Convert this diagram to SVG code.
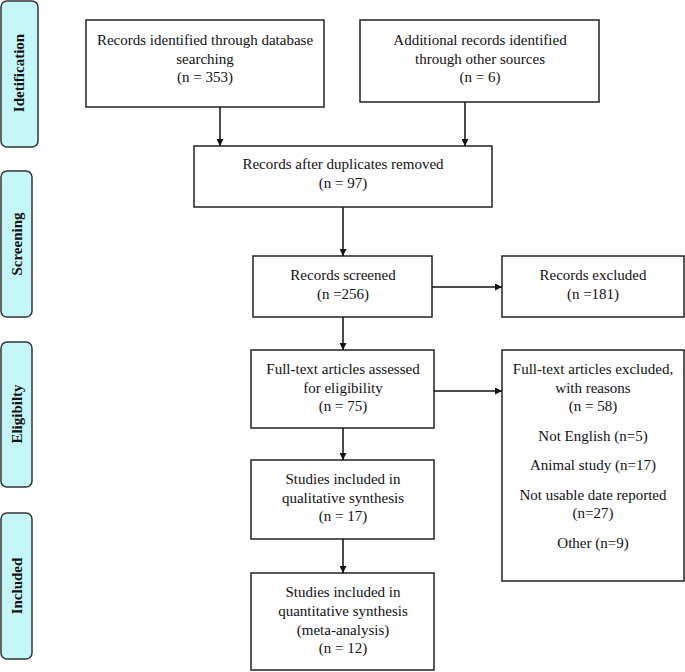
<svg xmlns="http://www.w3.org/2000/svg" width="685" height="672" viewBox="0 0 685 672">
<defs>
<style>
.tab{fill:#c5f7f9;stroke:#333;stroke-width:1.5}
.box{fill:#fff;stroke:#222;stroke-width:1.5}
text{font-family:"Liberation Serif","Times New Roman",serif;font-size:15px;fill:#111;text-anchor:middle}
.tt{font-weight:bold;font-size:15px}
.con{stroke:#111;stroke-width:1.5;fill:none;marker-end:url(#ah)}
</style>
<marker id="ah" viewBox="0 0 10 10" refX="10" refY="5" markerWidth="7" markerHeight="7" markerUnits="userSpaceOnUse" orient="auto">
<path d="M0,0 L10,5 L0,10 Z" fill="#111"/>
</marker>
</defs>
<rect width="685" height="672" fill="#fff"/>
<g id="tab-identification"><rect class="tab" x="1" y="1" width="37" height="146" rx="6"/><text class="tt" transform="translate(19,73) rotate(-90)" dy="0.35em">Idetification</text></g>
<g id="tab-screening"><rect class="tab" x="1" y="171" width="31" height="146" rx="6"/><text class="tt" transform="translate(17,244) rotate(-90)" dy="0.35em">Screening</text></g>
<g id="tab-eligibility"><rect class="tab" x="1" y="342" width="31" height="145" rx="6"/><text class="tt" transform="translate(17,414) rotate(-90)" dy="0.35em">Eligibilty</text></g>
<g id="tab-included"><rect class="tab" x="1" y="513" width="31" height="146" rx="6"/><text class="tt" transform="translate(17,586) rotate(-90)" dy="0.35em">Included</text></g>

<g id="n-db"><rect class="box" x="86" y="20" width="238" height="87"/><text x="205" y="45">Records identified through database</text><text x="205" y="64">searching</text><text x="205" y="82">(n = 353)</text></g>
<g id="n-other"><rect class="box" x="360" y="20" width="239" height="82"/><text x="480" y="45">Additional records identified</text><text x="480" y="64">through other sources</text><text x="480" y="82">(n = 6)</text></g>
<g id="n-dup"><rect class="box" x="194" y="146" width="298" height="61"/><text x="343" y="169">Records after duplicates removed</text><text x="343" y="188">(n = 97)</text></g>
<g id="n-screened"><rect class="box" x="253" y="256" width="179" height="61"/><text x="343" y="280">Records screened</text><text x="343" y="299">(n =256)</text></g>
<g id="n-excluded"><rect class="box" x="502" y="256" width="182" height="61"/><text x="593" y="280">Records excluded</text><text x="593" y="299">(n =181)</text></g>
<g id="n-fulltext"><rect class="box" x="251" y="350" width="183" height="78"/><text x="343" y="374">Full-text articles assessed</text><text x="343" y="393">for eligibility</text><text x="343" y="411">(n = 75)</text></g>
<g id="n-ftexcluded"><rect class="box" x="502" y="350" width="182" height="231"/><text x="593" y="374">Full-text articles excluded,</text><text x="593" y="393">with reasons</text><text x="593" y="411">(n = 58)</text><text x="593" y="441">Not English (n=5)</text><text x="593" y="470">Animal study (n=17)</text><text x="593" y="500">Not usable date reported</text><text x="593" y="518">(n=27)</text><text x="593" y="548">Other (n=9)</text></g>
<g id="n-qual"><rect class="box" x="251" y="460" width="183" height="79"/><text x="343" y="484">Studies included in</text><text x="343" y="503">qualitative synthesis</text><text x="343" y="521">(n = 17)</text></g>
<g id="n-quant"><rect class="box" x="251" y="573" width="183" height="97"/><text x="343" y="597">Studies included in</text><text x="343" y="616">quantitative synthesis</text><text x="343" y="635">(meta-analysis)</text><text x="343" y="653">(n = 12)</text></g>

<g id="connectors">
<path class="con" d="M220,107 V146"/>
<path class="con" d="M465,102 V146"/>
<path class="con" d="M343,207 V256"/>
<path class="con" d="M432,287 H502"/>
<path class="con" d="M343,317 V350"/>
<path class="con" d="M434,391 H502"/>
<path class="con" d="M343,428 V460"/>
<path class="con" d="M343,539 V573"/>
</g>
</svg>
